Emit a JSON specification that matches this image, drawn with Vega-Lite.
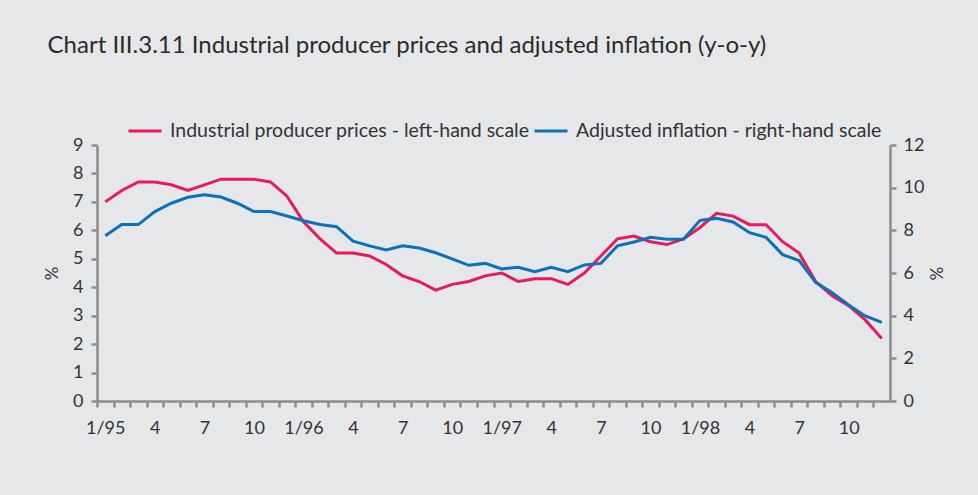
{
  "$schema": "https://vega.github.io/schema/vega-lite/v6.json",
  "width": 793,
  "height": 256,
  "autosize": {"type": "none"},
  "padding": {"left": 97, "top": 145, "right": 88, "bottom": 94},
  "background": "#e6e7e9",
  "title": {
    "text": "Chart III.3.11  Industrial producer prices and adjusted inflation (y-o-y)",
    "anchor": "start",
    "offset": 55,
    "dx": 4,
    "font": "Lato",
    "fontSize": 24,
    "fontWeight": "normal",
    "color": "#2b2b2b"
  },
  "config": {
    "view": {"stroke": null},
    "axis": {
      "grid": false,
      "domainColor": "#8c8c8c",
      "domainWidth": 2.5,
      "tickColor": "#8c8c8c",
      "tickWidth": 2.5,
      "tickSize": 6,
      "labelFont": "Lato",
      "labelFontSize": 18,
      "labelColor": "#333333",
      "titleFont": "Lato",
      "titleFontSize": 17,
      "titleFontWeight": "normal",
      "titleColor": "#333333"
    },
    "legend": {
      "labelFont": "Lato",
      "labelFontSize": 19.5,
      "labelColor": "#333333",
      "symbolType": "stroke",
      "symbolSize": 1089,
      "symbolStrokeWidth": 3,
      "labelOffset": 7,
      "labelLimit": 600
    }
  },
  "data": {
    "values": [
      {"d": "1995-01", "ipp": 7.0, "adj": 7.75},
      {"d": "1995-02", "ipp": 7.4, "adj": 8.27},
      {"d": "1995-03", "ipp": 7.7, "adj": 8.27},
      {"d": "1995-04", "ipp": 7.7, "adj": 8.88},
      {"d": "1995-05", "ipp": 7.6, "adj": 9.27},
      {"d": "1995-06", "ipp": 7.4, "adj": 9.55},
      {"d": "1995-07", "ipp": 7.6, "adj": 9.67},
      {"d": "1995-08", "ipp": 7.8, "adj": 9.56},
      {"d": "1995-09", "ipp": 7.8, "adj": 9.27},
      {"d": "1995-10", "ipp": 7.8, "adj": 8.88},
      {"d": "1995-11", "ipp": 7.7, "adj": 8.88},
      {"d": "1995-12", "ipp": 7.2, "adj": 8.67},
      {"d": "1996-01", "ipp": 6.3, "adj": 8.45},
      {"d": "1996-02", "ipp": 5.7, "adj": 8.27},
      {"d": "1996-03", "ipp": 5.2, "adj": 8.17},
      {"d": "1996-04", "ipp": 5.2, "adj": 7.49},
      {"d": "1996-05", "ipp": 5.1, "adj": 7.27},
      {"d": "1996-06", "ipp": 4.8, "adj": 7.08},
      {"d": "1996-07", "ipp": 4.4, "adj": 7.28},
      {"d": "1996-08", "ipp": 4.2, "adj": 7.17},
      {"d": "1996-09", "ipp": 3.9, "adj": 6.95},
      {"d": "1996-10", "ipp": 4.1, "adj": 6.66},
      {"d": "1996-11", "ipp": 4.2, "adj": 6.36},
      {"d": "1996-12", "ipp": 4.4, "adj": 6.45},
      {"d": "1997-01", "ipp": 4.5, "adj": 6.19},
      {"d": "1997-02", "ipp": 4.2, "adj": 6.27},
      {"d": "1997-03", "ipp": 4.3, "adj": 6.06},
      {"d": "1997-04", "ipp": 4.3, "adj": 6.27},
      {"d": "1997-05", "ipp": 4.1, "adj": 6.06},
      {"d": "1997-06", "ipp": 4.5, "adj": 6.38},
      {"d": "1997-07", "ipp": 5.1, "adj": 6.45},
      {"d": "1997-08", "ipp": 5.7, "adj": 7.27},
      {"d": "1997-09", "ipp": 5.8, "adj": 7.45},
      {"d": "1997-10", "ipp": 5.6, "adj": 7.67},
      {"d": "1997-11", "ipp": 5.5, "adj": 7.58},
      {"d": "1997-12", "ipp": 5.7, "adj": 7.58},
      {"d": "1998-01", "ipp": 6.1, "adj": 8.47},
      {"d": "1998-02", "ipp": 6.6, "adj": 8.56},
      {"d": "1998-03", "ipp": 6.5, "adj": 8.39},
      {"d": "1998-04", "ipp": 6.2, "adj": 7.89},
      {"d": "1998-05", "ipp": 6.2, "adj": 7.67},
      {"d": "1998-06", "ipp": 5.6, "adj": 6.86},
      {"d": "1998-07", "ipp": 5.2, "adj": 6.58},
      {"d": "1998-08", "ipp": 4.2, "adj": 5.56},
      {"d": "1998-09", "ipp": 3.7, "adj": 5.08},
      {"d": "1998-10", "ipp": 3.35, "adj": 4.5},
      {"d": "1998-11", "ipp": 2.85, "adj": 3.99},
      {"d": "1998-12", "ipp": 2.2, "adj": 3.69}
    ]
  },
  "layer": [
    {
      "mark": {"type": "line", "strokeWidth": 3},
      "encoding": {
        "x": {
          "field": "d",
          "type": "ordinal",
          "scale": {"type": "band", "paddingInner": 0, "paddingOuter": 0},
          "axis": {
            "title": null,
            "labelAngle": 0,
            "labelOverlap": false,
            "labelPadding": 12,
            "tickOffset": -8.26,
            "labelOffset": 8.26,
            "labelExpr": "parseInt(slice(datum.value,5,7)) % 3 == 1 ? (slice(datum.value,5,7) == '01' ? '1/' + slice(datum.value,2,4) : '' + parseInt(slice(datum.value,5,7))) : ''"
          }
        },
        "y": {
          "field": "ipp",
          "type": "quantitative",
          "scale": {"domain": [0, 9], "nice": false},
          "axis": {"orient": "left", "title": "%", "values": [0,1,2,3,4,5,6,7,8,9], "labelPadding": 8, "titlePadding": 11}
        },
        "color": {
          "datum": "Industrial producer prices - left-hand scale",
          "scale": {"range": ["#e8195c"]},
          "legend": {"title": null, "orient": "none", "legendX": 30, "legendY": -32}
        }
      }
    },
    {
      "mark": {"type": "line", "strokeWidth": 3},
      "encoding": {
        "x": {"field": "d", "type": "ordinal"},
        "y": {
          "field": "adj",
          "type": "quantitative",
          "scale": {"domain": [0, 12], "nice": false},
          "axis": {"orient": "right", "title": "%", "values": [0,2,4,6,8,10,12], "labelPadding": 7, "titlePadding": 2}
        },
        "color": {
          "datum": "Adjusted inflation - right-hand scale",
          "scale": {"range": ["#0b72b9"]},
          "legend": {"title": null, "orient": "none", "legendX": 436, "legendY": -32}
        }
      }
    }
  ],
  "resolve": {"scale": {"y": "independent", "color": "independent"}}
}
